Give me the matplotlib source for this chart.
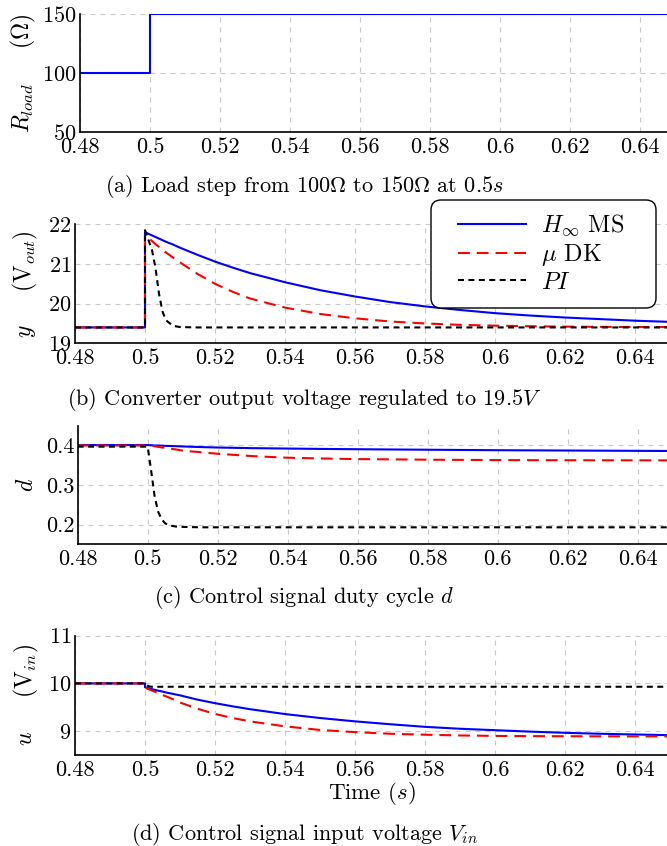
import matplotlib
matplotlib.use("Agg")
import matplotlib.pyplot as plt
from matplotlib.patches import FancyBboxPatch
from matplotlib.transforms import blended_transform_factory

plt.rcParams['font.family'] = 'serif'
plt.rcParams['font.serif'] = ['cmr10']
plt.rcParams['mathtext.fontset'] = 'cm'
plt.rcParams['axes.formatter.use_mathtext'] = True
plt.rcParams['lines.scale_dashes'] = False

# load step
t_load = [0.48, 0.5, 0.5, 0.65]
r_load = [100, 100, 150, 150]

# common time base for the closed loop responses
t = [0.48, 0.5, 0.5, 0.501, 0.502, 0.503, 0.504, 0.505, 0.506, 0.508, 0.51,
     0.515, 0.52, 0.525, 0.53, 0.54, 0.55, 0.56, 0.57, 0.58, 0.59, 0.6,
     0.61, 0.62, 0.63, 0.64, 0.65]

# output voltage y (V_out)
y_hinf = [19.4, 19.4, 21.8, 21.76, 21.72, 21.68, 21.64, 21.6, 21.56, 21.49, 21.41,
          21.23, 21.06, 20.91, 20.77, 20.54, 20.34, 20.18, 20.04, 19.93, 19.84, 19.76,
          19.7, 19.65, 19.61, 19.57, 19.54]
y_mu = [19.4, 19.4, 21.72, 21.65, 21.58, 21.5, 21.43, 21.35, 21.29, 21.16, 21.04,
        20.75, 20.5, 20.3, 20.13, 19.9, 19.74, 19.63, 19.55, 19.5, 19.465, 19.445,
        19.43, 19.42, 19.415, 19.41, 19.41]
y_pi = [19.4, 19.4, 21.85, 21.6, 21.35, 20.9, 20.25, 19.8, 19.58, 19.44, 19.41,
        19.4, 19.4, 19.4, 19.4, 19.4, 19.4, 19.4, 19.4, 19.4, 19.4, 19.4,
        19.4, 19.4, 19.4, 19.4, 19.4]

# duty cycle d
d_hinf = [0.401, 0.401, 0.401, 0.4005, 0.4, 0.3998, 0.3995, 0.399, 0.3988, 0.3982, 0.3975,
          0.396, 0.3948, 0.394, 0.3932, 0.3922, 0.3912, 0.3905, 0.3898, 0.3892, 0.3886, 0.388,
          0.3876, 0.3872, 0.3868, 0.3864, 0.386]
d_mu = [0.4, 0.4, 0.4, 0.399, 0.398, 0.3965, 0.395, 0.394, 0.3925, 0.39, 0.387,
        0.383, 0.379, 0.376, 0.373, 0.369, 0.367, 0.3655, 0.3648, 0.364, 0.3635, 0.363,
        0.3628, 0.3626, 0.3625, 0.3624, 0.3623]
d_pi = [0.397, 0.397, 0.397, 0.335, 0.27, 0.232, 0.213, 0.203, 0.198, 0.195, 0.194,
        0.193, 0.193, 0.193, 0.193, 0.193, 0.193, 0.193, 0.193, 0.193, 0.193, 0.193,
        0.193, 0.193, 0.193, 0.193, 0.193]

# input voltage u (V_in)
u_hinf = [10, 10, 9.92, 9.9, 9.88, 9.86, 9.845, 9.83, 9.81, 9.78, 9.75,
          9.66, 9.586, 9.52, 9.46, 9.358, 9.275, 9.205, 9.145, 9.09, 9.05, 9.02,
          8.99, 8.965, 8.945, 8.93, 8.915]
u_mu = [10, 10, 9.91, 9.88, 9.85, 9.82, 9.79, 9.755, 9.73, 9.67, 9.6,
        9.47, 9.36, 9.275, 9.205, 9.1, 9.025, 8.98, 8.945, 8.925, 8.91, 8.9,
        8.895, 8.893, 8.891, 8.89, 8.89]
u_pi = [10, 10, 10, 9.94, 9.93, 9.93, 9.93, 9.93, 9.93, 9.93, 9.93,
        9.93, 9.93, 9.93, 9.93, 9.93, 9.93, 9.93, 9.93, 9.93, 9.93, 9.93,
        9.93, 9.93, 9.93, 9.93, 9.93]

x_ticks = [0.48, 0.5, 0.52, 0.54, 0.56, 0.58, 0.6, 0.62, 0.64]
x_ticklabels = ['0.48', '0.5', '0.52', '0.54', '0.56', '0.58', '0.6', '0.62', '0.64']

labels = [r'$H_\infty$ MS', r'$\mu$ DK', r'$PI$']
captions = [r'(a) Load step from 100$\Omega$ to 150$\Omega$ at 0.5$s$',
            r'(b) Converter output voltage regulated to 19.5$V$',
            r'(c) Control signal duty cycle $d$',
            r'(d) Control signal input voltage $V_{in}$']

W, H = 667, 846
fig = plt.figure(figsize=(W / 100, H / 100), dpi=100)


def make_axes(left, top, bottom):
    # pixel box -> figure fraction, x range 0.48..0.65 at 70 px per 0.02
    width = 0.17 / 0.02 * 70
    ax = fig.add_axes([left / W, 1 - bottom / H, width / W, (bottom - top) / H])
    ax.set_xlim(0.48, 0.65)
    ax.set_xticks(x_ticks)
    ax.set_xticklabels(x_ticklabels)
    ax.spines['top'].set_visible(False)
    ax.spines['right'].set_visible(False)
    for s in ('left', 'bottom'):
        ax.spines[s].set_linewidth(1.2)
    ax.tick_params(length=0, labelsize=16)
    ax.tick_params(axis='x', pad=4)
    ax.tick_params(axis='y', pad=2.5)
    ax.grid(True, color='#c8c8c8', linewidth=0.8, linestyle=(0, (3.6, 3.6)))
    ax.set_axisbelow(True)
    return ax


def place_ylabel(ax, text, xpix):
    ax.set_ylabel(text, fontsize=17)
    ax.yaxis.label.set_va('center')
    tr = blended_transform_factory(fig.transFigure, ax.transAxes)
    ax.yaxis.set_label_coords(xpix / W, 0.5, transform=tr)


blue = dict(color='#0000ff', lw=1.5)
red = dict(color='#ff0000', lw=1.5, linestyle=(0, (8.5, 5)))
black = dict(color='black', lw=1.5, linestyle=(0, (4.3, 3.2)))

# (a) load resistance
ax1 = make_axes(80, 14, 132)
ax1.plot(t_load, r_load, **blue)
ax1.set_ylim(50, 150)
ax1.set_yticks([50, 100, 150])
place_ylabel(ax1, r'$R_{load}\ \quad\ (\Omega)$', 23)

# (b) output voltage
ax2 = make_axes(75, 224.3, 343.3)
l1, = ax2.plot(t, y_hinf, **blue)
l2, = ax2.plot(t, y_mu, **red)
l3, = ax2.plot(t, y_pi, **black)
ax2.set_ylim(19, 22)
ax2.set_yticks([19, 20, 21, 22])
place_ylabel(ax2, r'$y\ \quad\ (\mathrm{V}_{out})$', 25)

# legend box with rounded corners, drawn in inches so the corners stay round
box = FancyBboxPatch((431 / 100, (H - 308) / 100), 225 / 100, 108 / 100,
                     boxstyle='round,pad=0,rounding_size=0.1',
                     transform=fig.dpi_scale_trans, facecolor='white',
                     edgecolor='black', linewidth=1.0, zorder=4)
fig.add_artist(box)
fig.legend([l1, l2, l3], labels, loc='upper left',
           bbox_to_anchor=(458 / W, 1 - 213 / H), frameon=False,
           fontsize=17.5, handlelength=2.8, handletextpad=0.62,
           labelspacing=0.15, borderpad=0, borderaxespad=0)

# (c) duty cycle
ax3 = make_axes(77.7, 425.7, 544.3)
ax3.plot(t, d_hinf, **blue)
ax3.plot(t, d_mu, **red)
ax3.plot(t, d_pi, **black)
ax3.set_ylim(0.15, 0.45)
ax3.set_yticks([0.2, 0.3, 0.4])
ax3.set_yticklabels(['0.2', '0.3', '0.4'])
place_ylabel(ax3, r'$d$', 27)

# (d) input voltage
ax4 = make_axes(75, 635.7, 755)
ax4.plot(t, u_hinf, **blue)
ax4.plot(t, u_mu, **red)
ax4.plot(t, u_pi, **black)
ax4.set_ylim(8.5, 11)
ax4.set_yticks([9, 10, 11])
place_ylabel(ax4, r'$u\ \quad\ (\mathrm{V}_{in})$', 26)
ax4.set_xlabel(r'Time ($s$)', fontsize=16.5)
ax4.xaxis.label.set_va('baseline')
ax4.xaxis.set_label_coords(0.5, 1 - 799 / H,
                           transform=blended_transform_factory(ax4.transAxes, fig.transFigure))

for cap, yb in zip(captions, [192, 405, 603, 839.5]):
    fig.text(304 / W, 1 - yb / H, cap, fontsize=16, ha='center', va='baseline')

fig.savefig('out.png', dpi=100)
